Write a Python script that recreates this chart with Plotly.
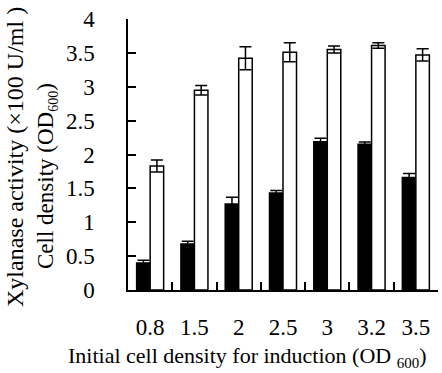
import plotly.graph_objects as go

categories = ["0.8", "1.5", "2", "2.5", "3", "3.2", "3.5"]
xylanase = [0.40, 0.68, 1.27, 1.43, 2.19, 2.15, 1.66]
xylanase_err = [0.04, 0.04, 0.10, 0.04, 0.05, 0.035, 0.06]
cell_density = [1.83, 2.95, 3.42, 3.51, 3.55, 3.61, 3.47]
cell_density_err = [0.09, 0.07, 0.17, 0.14, 0.05, 0.04, 0.09]

font_family = "Liberation Serif, Times New Roman, serif"

fig = go.Figure()
fig.add_trace(go.Bar(
    x=categories, y=xylanase, name="Xylanase activity",
    marker=dict(color="black", line=dict(color="black", width=1.5)),
    error_y=dict(type="data", array=xylanase_err, visible=True,
                 color="black", thickness=1.5, width=6),
))
fig.add_trace(go.Bar(
    x=categories, y=cell_density, name="Cell density",
    marker=dict(color="white", line=dict(color="black", width=1.5)),
    error_y=dict(type="data", array=cell_density_err, visible=True,
                 color="black", thickness=1.5, width=6),
))

L, R, T, B = 128, 4, 19, 83
W, H = 442, 373
pw, ph = W - L - R, H - T - B

def px(xp):
    return (xp - L) / pw

def py(yp):
    return (H - B - yp) / ph

fig.update_layout(
    width=W, height=H,
    margin=dict(l=L, r=R, t=T, b=B),
    paper_bgcolor="white", plot_bgcolor="white",
    barmode="group", bargap=0.39, bargroupgap=0,
    showlegend=False,
    font=dict(family=font_family, color="black", size=21),
)
fig.update_xaxes(
    type="category", automargin=False,
    showline=True, linecolor="black", linewidth=1.5,
    ticks="inside", tickson="boundaries", ticklen=8, tickwidth=1.5, tickcolor="black",
    showgrid=False, zeroline=False,
    tickfont=dict(size=23), ticklabelstandoff=16,
)
fig.update_yaxes(
    range=[0, 4], dtick=0.5, tick0=0, automargin=False,
    showline=True, linecolor="black", linewidth=1.5,
    ticks="inside", ticklen=8, tickwidth=1.5, tickcolor="black",
    showgrid=False, zeroline=False,
    tickfont=dict(size=23), ticklabelstandoff=27,
)

fig.add_annotation(
    text="Initial cell density for induction (OD <sub><span style='font-size:15px'>600</span></sub>)",
    xref="paper", yref="paper", x=px(247), y=py(357),
    xanchor="center", yanchor="middle", showarrow=False,
    font=dict(size=22),
)
fig.add_annotation(
    text="Xylanase activity (×100 U/ml )",
    xref="paper", yref="paper", x=px(15), y=py(157),
    xanchor="center", yanchor="middle", showarrow=False, textangle=-90,
    font=dict(size=24),
)
fig.add_annotation(
    text="Cell density (OD<sub><span style='font-size:14px'>600</span></sub>)",
    xref="paper", yref="paper", x=px(47), y=py(176),
    xanchor="center", yanchor="middle", showarrow=False, textangle=-90,
    font=dict(size=23),
)

fig.write_html(
    "out.html",
    config={"displayModeBar": False},
    post_script="document.body.style.margin='0';document.body.style.overflow='hidden';",
)
